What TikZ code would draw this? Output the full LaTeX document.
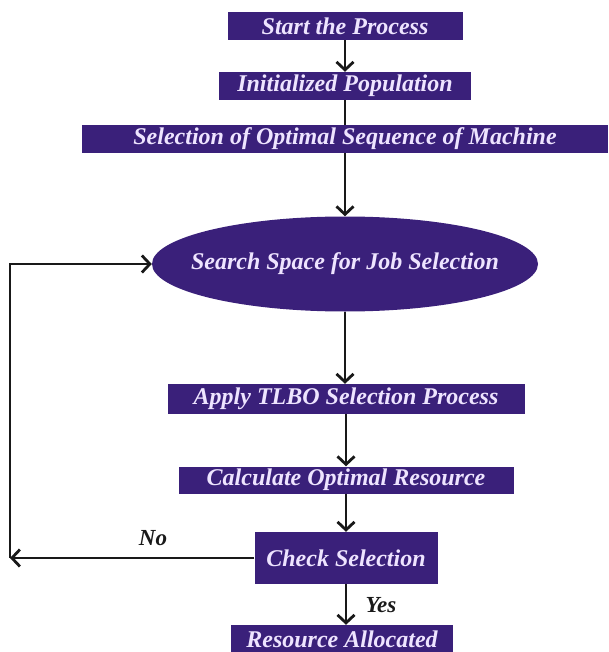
\documentclass[tikz,border=0pt]{standalone}
\usepackage{fontspec}
\setmainfont{Liberation Serif}
\usepackage{tikz}
\usetikzlibrary{
  shapes.geometric,
  arrows.meta,
  positioning
}
\definecolor{flowpurple}{RGB}{58,32,122}
\definecolor{flowtext}{RGB}{238,228,255}
\definecolor{flowline}{RGB}{25,25,25}

\begin{document}
\begin{tikzpicture}[
  x=1pt, y=-1pt,
  stepbox/.style={
    rectangle, fill=flowpurple, inner sep=0pt,
    minimum height=28pt, text=flowtext,
    font=\fontsize{24}{26}\selectfont\bfseries\itshape
  },
  oval/.style={
    ellipse, fill=flowpurple, inner xsep=-30pt, inner ysep=0pt,
    minimum width=386pt, minimum height=95pt, text=flowtext,
    font=\fontsize{24}{26}\selectfont\bfseries\itshape
  },
  link/.style={draw=flowline, line width=2.8pt},
  arr/.style={link, -{Straight Barb[length=8pt,width=17pt,line width=2.8pt]}},
  tag/.style={font=\fontsize{23}{25}\selectfont\bfseries\itshape, text=flowline}
]
  \useasboundingbox (0,0) rectangle (608,652);

  \node[stepbox, minimum width=235pt] (start) at (345,26) {Start the Process};
  \node[stepbox, minimum width=252pt] (init) at (345,86) {Initialized Population};
  \node[stepbox, minimum width=526pt] (seq) at (345,139) {Selection of Optimal Sequence of Machine};
  \node[oval] (search) at (345,264) {Search Space for Job Selection};
  \node[stepbox, minimum width=357pt, minimum height=30pt] (tlbo) at (346,399) {Apply TLBO Selection Process};
  \node[stepbox, minimum width=335pt, minimum height=27pt] (calc) at (346,480) {Calculate Optimal Resource};
  \node[stepbox, minimum width=183pt, minimum height=52pt] (check) at (346,558) {Check Selection};
  \node[stepbox, minimum width=222pt] (alloc) at (342,639) {Resource Allocated};
  \coordinate (noend) at (10,558);

  \draw[arr] (start) -- (init);
  \draw[link] (init) -- (seq);
  \draw[arr] (seq.south -| search.north) -- (search.north);
  \draw[arr] (search.south) -- (search.south |- tlbo.north);
  \draw[arr] (tlbo) -- (calc);
  \draw[arr] (calc) -- (check);
  \draw[arr] (check.west) -- (noend);
  \draw[arr] (noend) |- (search.west);
  \draw[arr] (check.south) -- (check.south |- alloc.north);

  \node[tag] (no) at (153,538) {No};
  \node[tag] (yes) at (381,605) {Yes};
\end{tikzpicture}
\end{document}
